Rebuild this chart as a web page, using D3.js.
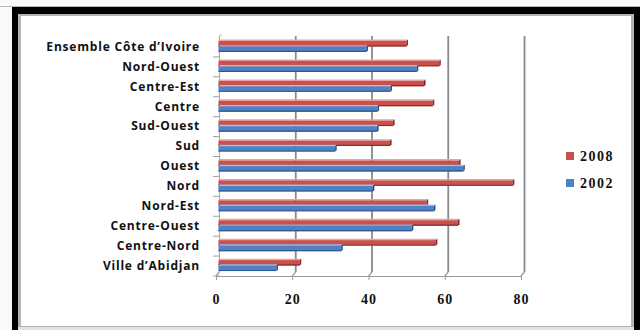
<!DOCTYPE html>
<html>
<head>
<meta charset="utf-8">
<script src="https://cdn.jsdelivr.net/npm/d3@7"></script>
<style>
  html, body { margin: 0; padding: 0; background: #fff; }
  svg { display: block; }
</style>
</head>
<body>
<svg id="chart" width="640" height="330"></svg>
<script>
// Regions, top to bottom as they appear on the category axis
const categories = [
  "Ensemble Côte d’Ivoire", "Nord-Ouest", "Centre-Est", "Centre", "Sud-Ouest", "Sud",
  "Ouest", "Nord", "Nord-Est", "Centre-Ouest", "Centre-Nord", "Ville d’Abidjan"
];
const seriesNames = ["2008", "2002"];
const values2008 = [49.3, 57.9, 53.9, 56.2, 45.8, 45.0, 63.1, 77.2, 54.6, 62.8, 57.0, 21.3];
const values2002 = [38.8, 52.0, 45.1, 41.7, 41.6, 30.6, 64.2, 40.5, 56.5, 50.7, 32.2, 15.2];
const xTicks = [0, 20, 40, 60, 80];

const colors = {
  "2008": { face: "#c9504c", top: "#e8a3a1", edge: "#8a2f2c", cap: "#7a2522" },
  "2002": { face: "#4f81c4", top: "#a9c2e4", edge: "#2d5a92", cap: "#24497a" }
};

const svg = d3.select("#chart");

// Frame: black outer band, thin grey inner rule, white plot area
svg.append("rect").attr("x", 0).attr("y", 0).attr("width", 640).attr("height", 330).attr("fill", "#fafafa");
svg.append("line").attr("x1", 0).attr("x2", 640).attr("y1", 6.5).attr("y2", 6.5).attr("stroke", "#b8b8b8");
svg.append("rect").attr("x", 12).attr("y", 7).attr("width", 628).attr("height", 330).attr("fill", "#000");
svg.append("rect").attr("x", 18).attr("y", 14).attr("width", 616).attr("height", 313).attr("fill", "#b4b4b4");
svg.append("rect").attr("x", 21).attr("y", 16).attr("width", 610).attr("height", 310).attr("fill", "#fff");
svg.append("rect").attr("x", 18).attr("y", 327).attr("width", 616).attr("height", 3).attr("fill", "#e2e2e2");

// Scales: front edge of the floor, with a small depth offset for the back wall
const x = d3.scaleLinear().domain([0, 80]).range([216, 521]);
const depthX = 3.5, depthY = 4;
const wallTop = 37, wallBottom = 272;
const y = d3.scaleBand().domain(categories).range([wallTop, wallBottom + depthY]);
const ySeries = d3.scaleBand().domain(seriesNames).range([4, 15]).paddingInner(0.02);

const g = svg.append("g");

// Back-wall gridlines and floor lines
xTicks.forEach(v => {
  const wx = x(v) + depthX;
  g.append("line")
    .attr("x1", wx).attr("x2", wx).attr("y1", wallTop - 1).attr("y2", wallBottom)
    .attr("stroke", v === 0 ? "#b0b0b0" : "#8a8a8a").attr("stroke-width", v === 0 ? 1.2 : 1.8);
  g.append("line")
    .attr("x1", wx).attr("x2", x(v)).attr("y1", wallBottom).attr("y2", wallBottom + depthY)
    .attr("stroke", "#9a9a9a").attr("stroke-width", 1.2);
});
// top-left corner of the side wall
g.append("line")
  .attr("x1", x(0) + depthX).attr("x2", x(0) + depthX + 2).attr("y1", wallTop - 1).attr("y2", wallTop - 2.5)
  .attr("stroke", "#9a9a9a");

// Category boundary ticks on the side wall
const bounds = categories.map(c => y(c)).concat([y.range()[1]]);
bounds.forEach((b, i) => {
  if (i === 0) return;
  g.append("line")
    .attr("x1", x(0) - 3).attr("x2", x(0) + depthX).attr("y1", b).attr("y2", b)
    .attr("stroke", "#a0a0a0").attr("stroke-width", 1);
});

// Bars
const rows = categories.map((c, i) => ({ cat: c, "2008": values2008[i], "2002": values2002[i] }));
const shift = 2.5;
const barX0 = x(0) + shift;
rows.forEach(r => {
  seriesNames.forEach(s => {
    const c = colors[s];
    const y0 = y(r.cat) + ySeries(s);
    const h = ySeries.bandwidth();
    const x1 = x(r[s]) + shift;
    // top face (receding)
    g.append("path")
      .attr("d", `M${barX0},${y0} L${barX0 + 1.5},${y0 - 1.4} L${x1 + 1.5},${y0 - 1.4} L${x1},${y0} Z`)
      .attr("fill", c.top);
    // front face
    g.append("rect")
      .attr("x", barX0).attr("y", y0).attr("width", x1 - barX0).attr("height", h)
      .attr("fill", c.face);
    g.append("line")
      .attr("x1", barX0).attr("x2", x1).attr("y1", y0 + h - 0.6).attr("y2", y0 + h - 0.6)
      .attr("stroke", c.edge).attr("stroke-width", 1.2);
    // end cap
    g.append("path")
      .attr("d", `M${x1},${y0} L${x1 + 1.5},${y0 - 1.4} L${x1 + 1.5},${y0 + h - 1.4} L${x1},${y0 + h} Z`)
      .attr("fill", c.cap);
  });
});

// Floor front edge and value axis
const xAxis = d3.axisBottom(x).tickValues(xTicks).tickSize(4).tickPadding(14).tickSizeOuter(0);
const ax = svg.append("g").attr("transform", `translate(0,${wallBottom + depthY})`).call(xAxis);
ax.select(".domain").attr("stroke", "#9a9a9a").attr("stroke-width", 1.2);
ax.selectAll(".tick line").attr("stroke", "#9a9a9a");
ax.selectAll(".tick text")
  .attr("fill", "#111")
  .style("font-family", "'Liberation Serif', 'DejaVu Serif', serif")
  .style("font-weight", "bold")
  .style("font-size", "14px")
  .style("letter-spacing", "1px");

// Category labels
const yAxis = d3.axisLeft(y).tickSize(0).tickPadding(16);
const ay = svg.append("g").attr("transform", `translate(${x(0)},0)`).call(yAxis);
ay.select(".domain").remove();
ay.selectAll(".tick text")
  .attr("fill", "#111")
  .style("font-family", "'Open Sans', sans-serif")
  .style("font-weight", "bold")
  .style("font-size", "12px")
  .style("letter-spacing", "0.8px");

// Legend
const legend = svg.append("g").attr("transform", "translate(566,152)");
seriesNames.forEach((s, i) => {
  const row = legend.append("g").attr("transform", `translate(0,${i * 27})`);
  row.append("rect").attr("x", 0).attr("y", 0).attr("width", 8).attr("height", 8).attr("fill", colors[s].face);
  row.append("text")
    .attr("x", 14).attr("y", 4.5).attr("dy", "0.35em")
    .attr("fill", "#111")
    .style("font-family", "'Liberation Serif', 'DejaVu Serif', serif")
    .style("font-weight", "bold")
    .style("font-size", "14px")
    .style("letter-spacing", "1.5px")
    .text(s);
});
</script>
</body>
</html>
